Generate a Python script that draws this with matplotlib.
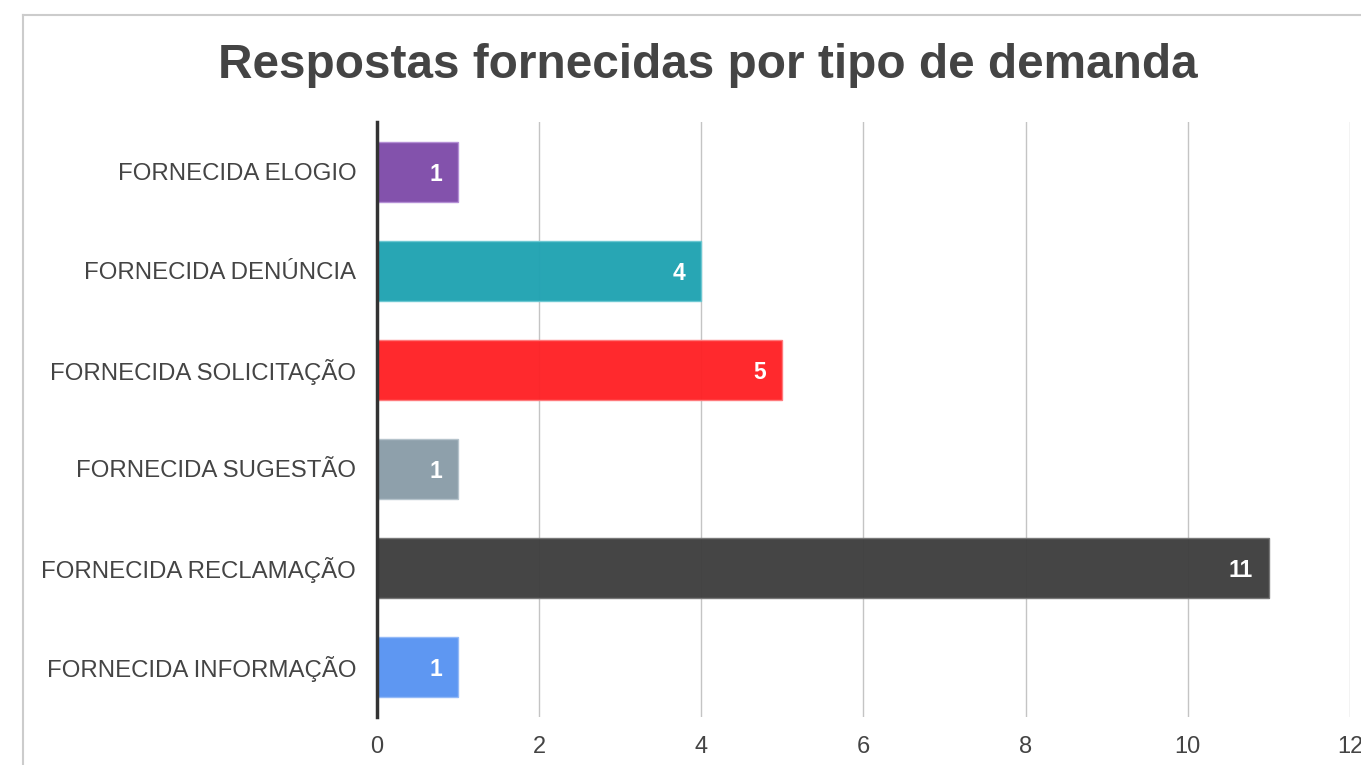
import matplotlib.pyplot as plt
from matplotlib.lines import Line2D
import numpy as np

plt.rcParams['font.family'] = ['Liberation Sans', 'DejaVu Sans']

categories = ['FORNECIDA ELOGIO', 'FORNECIDA DENÚNCIA', 'FORNECIDA SOLICITAÇÃO',
              'FORNECIDA SUGESTÃO', 'FORNECIDA RECLAMAÇÃO', 'FORNECIDA INFORMAÇÃO']
values = [1, 4, 5, 1, 11, 1]
colors = ['#7f4caa', '#21a3b2', '#ff2226', '#8a9da8', '#3f3f3f', '#5994f2']
edges = ['#b48fd6', '#6cc8d2', '#ff7a7c', '#b5c3cb', '#777777', '#93b9f7']
xticks = [0, 2, 4, 6, 8, 10, 12]

W, H = 1361, 765
fig = plt.figure(figsize=(W / 100, H / 100), dpi=100)
ax = fig.add_axes([377 / W, 1 - 716.5 / H, (1350 - 377) / W, (716.5 - 122) / H])

y = np.arange(len(categories))
ax.barh(y, values, height=0.606, color=colors, edgecolor=edges, linewidth=1,
        alpha=0.97, zorder=2)
for yi, v in zip(y, values):
    ax.text(v - 0.2, yi, str(v), ha='right', va='center_baseline', color='white',
            fontsize=16.5, fontweight='bold', zorder=3)

ax.set_xlim(0, 12)
ax.set_ylim(len(categories) - 0.5, -0.5)
ax.set_yticks(y)
ax.set_yticklabels(categories, fontsize=17.3, color='#444444')
ax.set_xticks(xticks)
ax.set_xticklabels([str(t) for t in xticks], fontsize=17, color='#444444')
ax.tick_params(axis='both', length=0)
ax.tick_params(axis='y', pad=15)
ax.tick_params(axis='x', pad=14)
ax.xaxis.grid(True, color='#c4c4c4', linewidth=1, zorder=0)
ax.set_axisbelow(True)
for s in ['top', 'right', 'bottom']:
    ax.spines[s].set_visible(False)
ax.spines['left'].set_color('#333333')
ax.spines['left'].set_linewidth(2.5)
ax.spines['left'].set_zorder(4)

fig.text(708 / W, 1 - 65 / H, 'Respostas fornecidas por tipo de demanda',
         ha='center', va='center', fontsize=34.4, fontweight='bold', color='#444444')

# outer frame (cropped at right and bottom)
fig.add_artist(Line2D([23.5 / W, 23.5 / W], [0, 1 - 14.5 / H], color='#cccccc', linewidth=1.5))
fig.add_artist(Line2D([23.5 / W, 1], [1 - 14.5 / H, 1 - 14.5 / H], color='#cccccc', linewidth=1.5))

fig.savefig('out.png', dpi=100)
